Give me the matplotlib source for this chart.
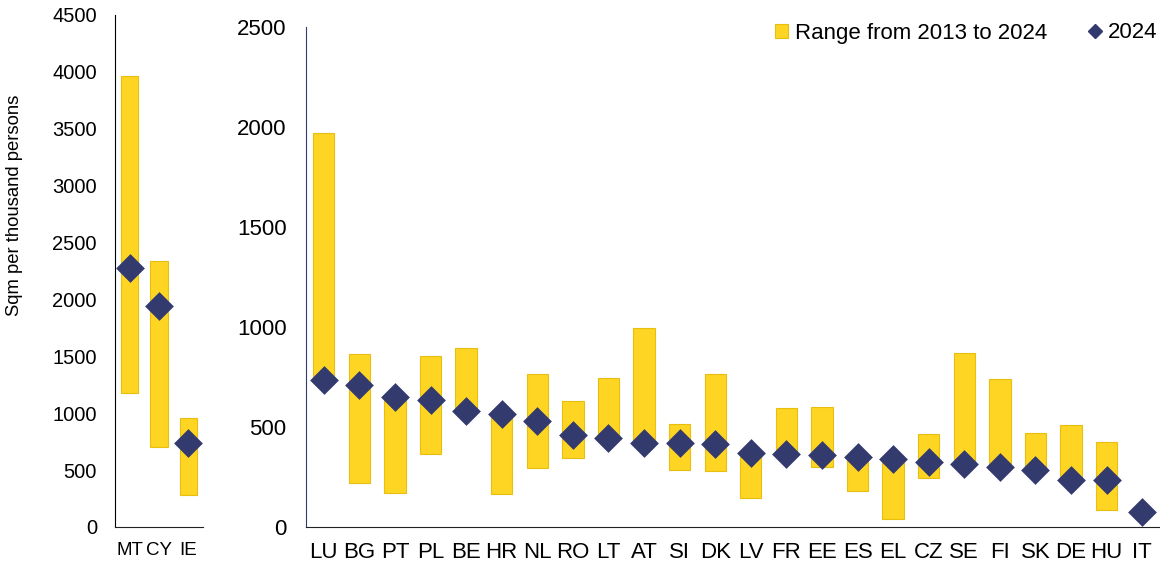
import numpy as np
import matplotlib.pyplot as plt
from matplotlib.patches import Patch
from matplotlib.lines import Line2D

plt.rcParams["font.family"] = ["Liberation Sans", "DejaVu Sans"]

# left panel (large values)
left_cc = ["MT", "CY", "IE"]
left_low = [1180, 700, 280]
left_high = [3960, 2340, 955]
left_2024 = [2280, 1945, 740]

# right panel
right_cc = ["LU", "BG", "PT", "PL", "BE", "HR", "NL", "RO", "LT", "AT", "SI", "DK",
            "LV", "FR", "EE", "ES", "EL", "CZ", "SE", "FI", "SK", "DE", "HU", "IT"]
right_low = [734, 220, 169, 367, 579, 163, 294, 345, 447, 421, 287, 281,
             147, 365, 300, 180, 42, 243, 314, 298, 287, 236, 87, 76]
right_high = [1968, 864, 652, 853, 897, 565, 764, 628, 744, 995, 517, 764,
              370, 596, 598, 350, 338, 465, 870, 741, 472, 508, 423, 78]
right_2024 = [734, 712, 652, 635, 579, 565, 530, 458, 447, 421, 418, 414,
              370, 365, 358, 350, 338, 325, 314, 298, 287, 236, 236, 76]

yellow = "#FFD524"
edge = "#E8BE10"
navy = "#333A6E"

fig = plt.figure(figsize=(11.6, 5.68), dpi=100)
ax1 = fig.add_axes([115 / 1160, 41 / 568, 88 / 1160, 512 / 568])
ax2 = fig.add_axes([306 / 1160, 41 / 568, 854 / 1160, 500 / 568])


def panel(ax, cc, low, high, now, ymax, step, fs, xfs, ypad):
    x = np.arange(len(cc))
    low = np.array(low)
    high = np.array(high)
    ax.bar(x, high - low, bottom=low, width=0.6, color=yellow,
           edgecolor=edge, linewidth=0.8, zorder=2)
    ax.scatter(x, now, marker="D", s=215, color=navy, zorder=3, linewidths=0)
    ax.set_xlim(-0.5, len(cc) - 0.5)
    ax.set_ylim(0, ymax)
    ax.set_yticks(np.arange(0, ymax + 1, step))
    ax.set_xticks(x)
    ax.set_xticklabels(cc)
    ax.tick_params(axis="x", length=0, labelsize=xfs, pad=11)
    ax.tick_params(axis="y", length=0, labelsize=fs, pad=ypad)
    for s in ["top", "right"]:
        ax.spines[s].set_visible(False)


panel(ax1, left_cc, left_low, left_high, left_2024, 4500, 500, 14.5, 13.5, 13)
panel(ax2, right_cc, right_low, right_high, right_2024, 2500, 500, 16, 16, 14)
ax1.spines["left"].set_color("black")
ax1.spines["bottom"].set_color("#222222")
ax2.spines["left"].set_color(navy)
ax2.spines["bottom"].set_color("#222222")

fig.text(15 / 1160, 1 - 205 / 568, "Sqm per thousand persons", rotation=90,
         ha="center", va="center", fontsize=13.3)

handles = [Patch(facecolor=yellow, edgecolor=edge, linewidth=0.8),
           Line2D([], [], marker="D", color=navy, linestyle="none", markersize=7)]
ax2.legend(handles, ["Range from 2013 to 2024", "2024"], ncol=2, frameon=False,
           loc="center right", bbox_to_anchor=(1.0, 0.988), fontsize=16,
           handlelength=0.6, handleheight=0.6, handletextpad=0.3,
           columnspacing=1.85, borderaxespad=0, borderpad=0.1)

fig.savefig("out.png", dpi=100)
